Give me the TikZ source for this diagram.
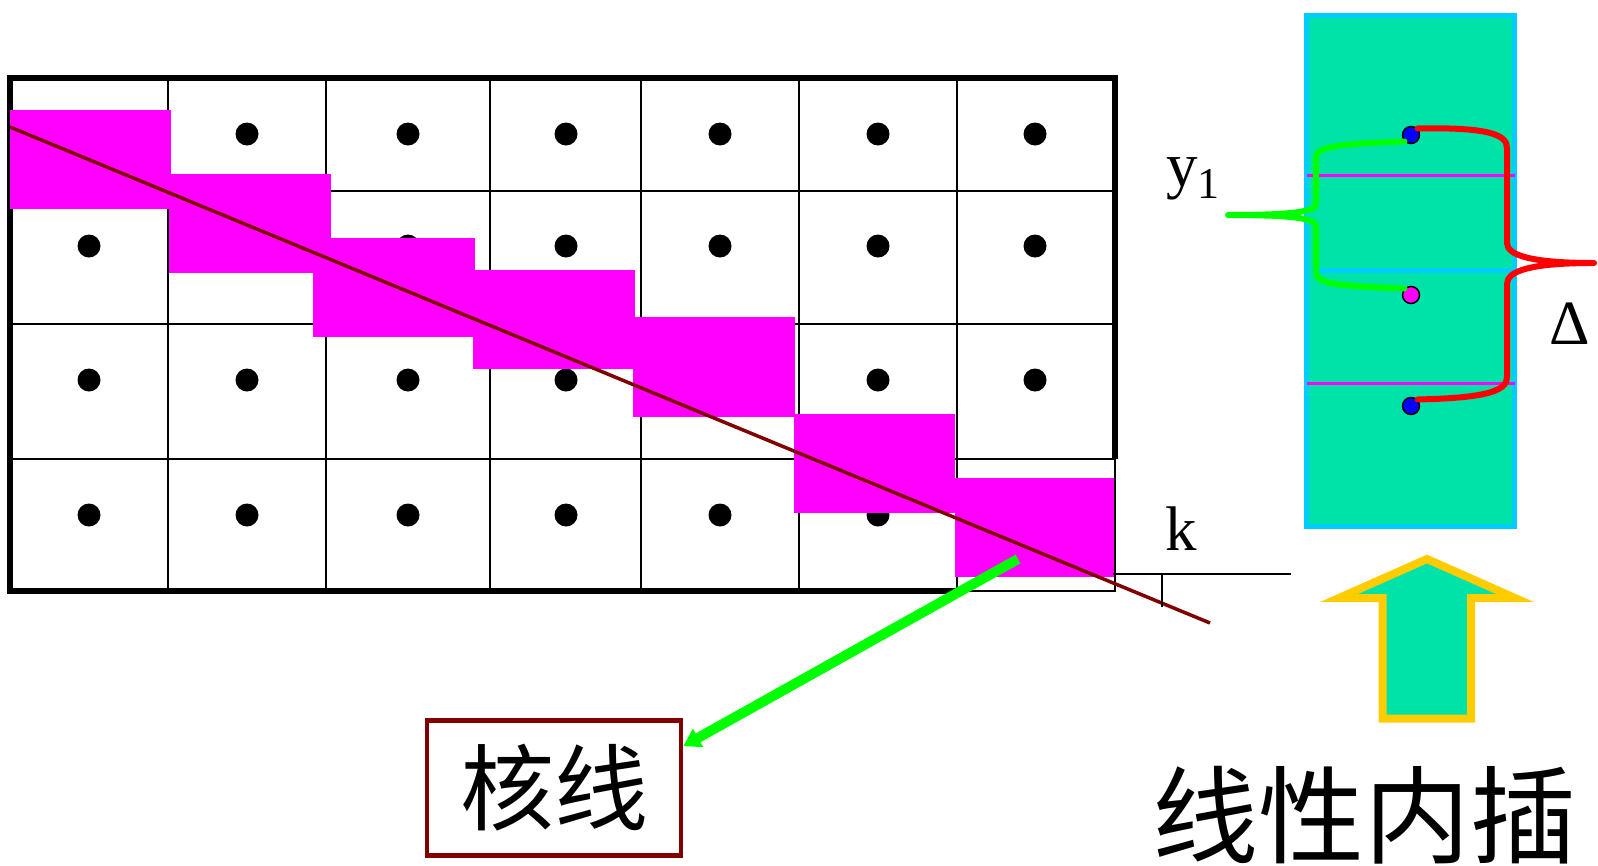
\documentclass[tikz,border=0pt]{standalone}
\usepackage{fontspec}
\setmainfont{Liberation Serif}
\newfontfamily\cjk{Noto Sans CJK SC}
\usetikzlibrary{arrows.meta,calc}
\definecolor{mag}{RGB}{255,0,255}
\definecolor{maroon}{RGB}{128,0,0}
\definecolor{sea}{RGB}{0,227,168}
\definecolor{sky}{RGB}{0,204,255}
\definecolor{gold}{RGB}{255,204,0}
\definecolor{grn}{RGB}{0,255,0}
\definecolor{dotblue}{RGB}{0,0,255}
\tikzset{
  gridline/.style={line width=2.5pt},
  frameline/.style={line width=6pt},
  lbl/.style={anchor=base west,inner sep=0pt,font=\fontsize{63}{63}\selectfont},
  knot/.style={circle,draw=black,line width=1.5pt,inner sep=0pt,minimum size=17pt},
  brace/.style={line width=6pt,line cap=round,line join=round}
}
\begin{document}
\begin{tikzpicture}[x=1pt,y=-1pt]
	\useasboundingbox (0,0) rectangle (1598,865);
	\foreach \x in {168,326,490,641,799,957} \draw[gridline] (\x,78) -- (\x,591);
	\foreach \y in {191,324,459} \draw[gridline] (10,\y) -- (1115,\y);
	\draw[gridline] (1115,459) -- (1115,591) -- (957,591);
	\draw[frameline] (957,591) -- (10,591) -- (10,78) -- (1115,78) -- (1115,459);
	\foreach \y in {134,246,380,515}
		\foreach \x in {89,247,408,566,720,878,1035}
			\fill (\x,\y) circle (11.5);
	\foreach \a/\b/\c/\d in {10/110/171/209, 169/174/331/273, 313/238/475/337, 473/270/635/369, 633/317/795/417, 794/414/955/513, 955/478/1114/577}
		\fill[mag] (\a,\b) rectangle (\c,\d);
	\coordinate (P) at (10,127);
	\coordinate (Q) at (1210,623);
	\draw[maroon,line width=3.5pt] (P) -- (Q);
	\coordinate (K1) at (1113,574);
	\coordinate (K2) at (1291,574);
	\coordinate (K3) at (1162,607);
	\draw[line width=2.5pt] (K1) -- (K2);
	\draw[line width=2pt] (K3 |- K1) -- (K3);
	\node[lbl] (k) at (1165,550) {k};
	\node[draw=maroon,line width=4.5pt,minimum width=254pt,minimum height=135pt,inner sep=0pt,font=\cjk\fontsize{94}{94}\selectfont] (hx) at (554,788) {核线\hspace{20pt}};
	\coordinate (G) at (1018,559);
	\draw[grn,line width=10pt,-{Triangle[length=17pt,width=20pt]}] (G) -- ($(hx.north east)!0.2!(hx.south east)$);
	\draw[sky,fill=sea,line width=5pt] (1306.5,15) rectangle (1514.5,526);
	\draw[mag,line width=3pt] (1307,175) -- (1515,175);
	\draw[mag,line width=3pt] (1307,383) -- (1515,383);
	\draw[sky,line width=5pt] (1312,270) -- (1515,270);
	\node[knot,fill=dotblue] (B1) at (1411,135) {};
	\node[knot,fill=mag] (M) at (1411,295) {};
	\node[knot,fill=dotblue] (B2) at (1411,406) {};
	\draw[grn,brace] (B1.south west) .. controls (1330,144) and (1316,148) .. (1316,158) -- (1316,204)
		.. controls (1316,212) and (1290,215) .. (1228,215) .. controls (1290,215) and (1316,218) .. (1316,226)
		-- (1316,272) .. controls (1316,283) and (1330,286) .. (M.north west);
	\draw[red,brace] (B1.north east) .. controls (1490,127) and (1507,135) .. (1507,148) -- (1507,243)
		.. controls (1507,255) and (1530,263) .. (1594,263) .. controls (1530,263) and (1507,271) .. (1507,284)
		-- (1507,377) .. controls (1507,390) and (1490,398) .. (B2.north east);
	\node[lbl] (y1) at (1166,186) {y\raisebox{-12pt}{\fontsize{44}{44}\selectfont 1}};
	\node[lbl] (D) at (1549,344) {Δ};
	\draw[gold,fill=sea,line width=8pt,line join=miter] (1427,559) -- (1515,598) -- (1471,598) -- (1471,718.5)
		-- (1382.5,718.5) -- (1382.5,598) -- (1339,598) -- cycle;
	\node[inner sep=0pt,font=\cjk\fontsize{106}{106}\selectfont] (xxnc) at (1364,815) {线性内插};
\end{tikzpicture}
\end{document}
